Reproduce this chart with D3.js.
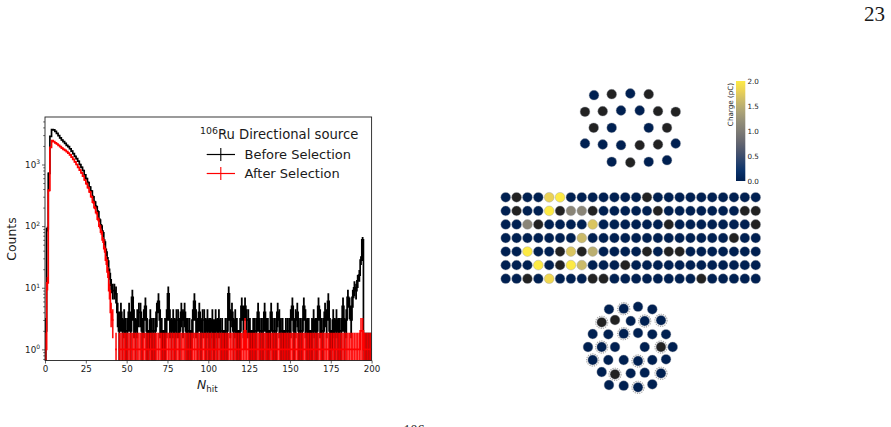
<!DOCTYPE html>
<html><head><meta charset="utf-8">
<script src="https://cdn.jsdelivr.net/npm/d3@7"></script>
<style>
html,body{margin:0;padding:0;background:#fff}
svg{display:block}
text{font-family:"DejaVu Sans",sans-serif;fill:#1a1a1a}
</style></head><body>
<svg id="page" width="891" height="427"></svg>
<script>
// Hit multiplicity histograms, one count per unit-wide bin from 0 to 199
const beforeCounts=[2,90,720,2850,3700,3650,3450,3200,2950,2700,2500,2350,2200,2050,1950,1800,1650,1500,1350,1250,
1130,1000,900,800,680,590,510,430,370,300,245,205,170,125,100,78,55,38,27,17,
11,9,9,8,4,2,4,2,3,2,2,4,2,7,3,2,3,4,4,2,
3,5,2,1,3,2,2,2,4,6,3,2,1,2,3,8,3,2,3,2,
3,3,2,4,3,4,2,2,2,1,3,6,3,2,4,2,3,3,2,3,
2,2,3,1,3,2,3,2,2,1,2,2,8,3,4,2,3,2,1,2,
5,3,5,3,3,2,1,2,2,2,4,2,2,2,4,2,2,1,4,2,
2,2,4,3,2,2,1,2,2,2,3,5,2,3,4,2,2,2,5,3,
2,2,1,2,3,2,2,5,3,2,2,4,3,6,2,1,3,2,3,2,
2,2,5,2,3,7,5,3,7,10,9,13,16,28,60,1,1,1,1,1];
const afterCounts=[1,12,380,1900,2450,2350,2250,2150,2050,1950,1850,1760,1700,1620,1530,1430,1320,1210,1100,1000,
900,810,730,650,560,490,420,360,300,245,200,165,130,100,80,60,43,28,18,9,
4,3,0,1,0,1,1,1,1,1,1,1,1,1,1,1,1,1,1,1,
1,1,1,1,1,1,1,1,1,1,1,1,1,1,1,1,1,1,1,1,
1,1,1,1,1,1,1,1,1,1,1,1,1,1,1,1,1,1,1,1,
1,1,1,1,1,1,1,1,1,1,1,1,1,1,1,1,1,1,1,1,
1,1,2,1,1,1,1,1,1,1,1,1,1,1,1,1,1,1,1,1,
1,1,1,1,1,1,1,1,1,1,1,1,1,1,1,1,1,1,1,1,
1,1,1,1,1,1,1,1,1,1,1,1,1,1,1,1,1,1,1,1,
1,1,1,1,1,1,1,1,1,1,1,1,1,2,2,1,1,1,1,1];
const xTicks=[0,25,50,75,100,125,150,175,200];
const yMajor=[1,10,100,1000];
const yMinor=[0.7,0.8,0.9,2,3,4,5,6,7,8,9,20,30,40,50,60,70,80,90,200,300,400,500,600,700,800,900,2000,3000,4000,5000];
const errorScale=0.86;

// Barrel channels: rows of charge in pC, null marks a channel without a calibrated reading
const _=null;
const barrelCharge=[
[0,_,0,0,1.8,2,0,0,0,0,0,0,0,_,0,0,0,0,0,0,0,0,0,0],
[0,_,0,0,2,_,1.1,1.1,_,0,0,0,0,0,_,0,0,0,0,0,0,0,_,_],
[0,0,1.1,_,0,0,0,0,1.7,0,0,0,0,0,0,_,0,0,0,0,0,0,0,_],
[0,0,0,0,0,0,0,1.6,0,0,0,0,0,0,0,0,0,0,0,0,0,_,0,0],
[0,0,2,0,0,_,1.7,_,1.5,0,0,0,0,_,0,_,_,0,0,0,0,0,0,0],
[0,0,0,2,0,_,2,1.6,0,0,0,_,0,0,0,0,0,0,0,0,0,0,0,0],
[0,0,_,0,1.85,0,0,0,_,_,0,0,0,0,0,0,0,0,_,0,0,0,0,0]];

// Top cap: detector coordinates and charges
const topCapX=[-36,-18.3,0.3,18.7,-45,-27.3,-9,9.7,28,45.7,-36.3,-18.3,18.7,37,-45,-27.3,-9,9.7,28,45.7,-18.3,0.3,18.7,37];
const topCapY=[33.3,34.3,35,34.3,16.7,17.3,18,18,17.3,16.7,0.7,0.7,0.7,0.7,-15,-16,-16.7,-16.7,-16,-15,-33.3,-34,-33.3,-31.7];
const topCapCharge=[0,_,0,_,_,_,0,0,_,_,_,0,0,_,0,0,0,_,_,0,0,_,0,0];

// Bottom cap: detector coordinates, charges and a flag for channels ringed as triggered
const botCapX=[-21,-6.3,8,22.3,-28.3,-15,0.7,14.7,31,-37.3,-21.7,-6.3,8,22.3,36,-42,-28.3,-15,14.7,31,42.7,-37.3,-21.7,-6.3,8,22.3,36,-28.3,-15,0.7,14.7,31,-21,-6.3,8,22.3];
const botCapY=[37.7,38.3,40.3,37.7,24.7,27,26,26,26.7,13,12.7,13.3,14,12.7,12.7,0,0,0,0,0,0,-13,-13,-13,-14,-13,-12.3,-25,-27.3,-26.3,-25.7,-26.3,-38,-38.7,-40.3,-37.3];
const botCapCharge=[0,0,0,0,_,_,0,0,0,0,0,0,0,0,0,0,0,0,0,_,0,0,0,0,0,0,0,0,_,0,0,0,0,0,0,0];
const botCapRing=[0,1,0,0,1,0,0,1,1,0,0,1,0,0,0,0,1,0,0,1,0,1,0,0,1,0,0,0,1,0,0,1,0,0,1,0];
const colorbarTicks=[0,0.5,1,1.5,2];

const svg=d3.select("#page");

// ---- histogram panel ----
const x=d3.scaleLinear().domain([0,200]).range([45,371.6]);
const y=d3.scaleLog().domain([0.66,5900]).range([360.5,117]);
const cid="plot-clip";
svg.append("defs").append("clipPath").attr("id",cid).append("rect")
  .attr("x",45).attr("y",117).attr("width",326.6).attr("height",243.5);
const plot=svg.append("g").attr("clip-path",`url(#${cid})`);
const floorV=0.01;

// Each bin gets a vertical error bar; low-count bars run off the bottom of the log axis,
// and bins with no entries leave the step outline broken
function drawSeries(counts,color,barWidth,barOpacity){
  const errors=counts.map((n,i)=>({i,n})).filter(d=>d.n>0);
  const err=d=>errorScale*Math.sqrt(d.n);
  plot.append("g").selectAll("line").data(errors).join("line")
    .attr("x1",d=>x(d.i+0.5)).attr("x2",d=>x(d.i+0.5))
    .attr("y1",d=>y(d.n<=2?floorV:d.n-err(d)))
    .attr("y2",d=>y(d.n+err(d)))
    .attr("stroke",color).attr("stroke-width",barWidth).attr("stroke-opacity",barOpacity);
  const step=d3.line().defined(d=>d.n>0).x(d=>x(d.e)).y(d=>y(d.n));
  const joined=[];
  counts.forEach((n,i)=>{joined.push({e:i,n});joined.push({e:i+1,n});});
  plot.append("path").attr("d",step(joined)).attr("fill","none")
    .attr("stroke",color).attr("stroke-width",1.7);
}
drawSeries(beforeCounts,"#000",1.8,1);
drawSeries(afterCounts,"#f00",1.6,0.93);

const ax=svg.append("g");
const xAxis=ax.append("g").attr("transform","translate(0,360.5)")
  .call(d3.axisBottom(x).tickValues(xTicks).tickSize(3).tickPadding(2).tickFormat(d3.format("d")));
const yAxisMinor=ax.append("g").attr("transform","translate(45,0)")
  .call(d3.axisLeft(y).tickValues(yMinor).tickSize(1.8).tickFormat(""));
const yAxisMajor=ax.append("g").attr("transform","translate(45,0)")
  .call(d3.axisLeft(y).tickValues(yMajor).tickSize(3).tickPadding(2).tickFormat(""));
yAxisMajor.selectAll(".tick text").each(function(d){
  const t=d3.select(this).attr("font-size",8.7).attr("dy","0.32em");
  t.append("tspan").text("10");
  t.append("tspan").attr("font-size",6).attr("dy","-0.55em").text(Math.round(Math.log10(d)));
});
xAxis.selectAll("text").attr("font-size",8.7).attr("font-family","DejaVu Sans");
[xAxis,yAxisMinor,yAxisMajor].forEach(a=>{a.select(".domain").remove();a.selectAll("line").attr("stroke","#222").attr("stroke-width",0.7);});
svg.append("rect").attr("x",45).attr("y",117).attr("width",326.6).attr("height",243.5)
  .attr("fill","none").attr("stroke","#222").attr("stroke-width",0.9);

svg.append("text").attr("transform","translate(16,239) rotate(-90)")
  .attr("text-anchor","middle").attr("font-size",12.4).text("Counts");
const xl=svg.append("text").attr("x",197).attr("y",389).attr("font-size",12.4);
xl.append("tspan").attr("font-style","italic").text("N");
xl.append("tspan").attr("font-size",8.7).attr("dy",2.5).text("hit");

// legend
const leg=svg.append("text").attr("x",200).attr("y",139).attr("font-size",13.2);
leg.append("tspan").attr("font-size",9.4).attr("dy",-5).text("106");
leg.append("tspan").attr("dy",5).text("Ru Directional source");
[["Before Selection","#000",154.5],["After Selection","#f00",173.5]].forEach(([label,c,ly])=>{
  svg.append("line").attr("x1",206.7).attr("x2",235).attr("y1",ly).attr("y2",ly).attr("stroke",c).attr("stroke-width",1.2);
  svg.append("line").attr("x1",220.8).attr("x2",220.8).attr("y1",ly-6.5).attr("y2",ly+6.5).attr("stroke",c).attr("stroke-width",1.1);
  svg.append("text").attr("x",244.5).attr("y",ly+4.5).attr("font-size",13).text(label);
});

// ---- event display ----
const cividis=d3.scaleSequential(d3.interpolateCividis).domain([0,2]);
const fillFor=c=>c===null?"#222222":cividis(c);
const R=4.9;

function drawDots(g,rows){
  g.selectAll("circle").data(rows).join("circle")
    .attr("cx",d=>d.px).attr("cy",d=>d.py).attr("r",R)
    .attr("fill",d=>fillFor(d.c))
    .attr("stroke","#9aa0a8").attr("stroke-width",0.4);
}

const colX=d3.scaleLinear().domain([0,23]).range([505.7,755.7]);
const rowY=d3.scaleLinear().domain([0,6]).range([197.3,278.7]);
drawDots(svg.append("g"),barrelCharge.flatMap((row,r)=>row.map((c,i)=>({px:colX(i),py:rowY(r),c}))));

const topX=d3.scaleLinear().domain([-50,50]).range([580,680]);
const topY=d3.scaleLinear().domain([-50,50]).range([178.5,78.5]);
drawDots(svg.append("g"),topCapX.map((v,i)=>({px:topX(v),py:topY(topCapY[i]),c:topCapCharge[i]})));

const botX=d3.scaleLinear().domain([-50,50]).range([580,680]);
const botY=d3.scaleLinear().domain([-50,50]).range([397,297]);
const botPts=botCapX.map((v,i)=>({px:botX(v),py:botY(botCapY[i]),c:botCapCharge[i],ring:botCapRing[i]}));
svg.append("g").selectAll("circle").data(botPts.filter(d=>d.ring)).join("circle")
  .attr("cx",d=>d.px).attr("cy",d=>d.py).attr("r",6.1)
  .attr("fill","none").attr("stroke","#a5a5a5").attr("stroke-width",1.1).attr("stroke-dasharray","1.3 1");
drawDots(svg.append("g"),botPts);

// colour bar
const cb=d3.scaleLinear().domain([0,2]).range([181,81]);
const grad=svg.select("defs").append("linearGradient").attr("id","cbar").attr("x1",0).attr("x2",0).attr("y1",1).attr("y2",0);
d3.range(0,1.0001,0.1).forEach(t=>grad.append("stop").attr("offset",t).attr("stop-color",d3.interpolateCividis(t)));
svg.append("rect").attr("x",736).attr("y",cb(2)).attr("width",9.3).attr("height",cb(0)-cb(2)).attr("fill","url(#cbar)");
svg.append("g").selectAll("text").data(colorbarTicks).join("text")
  .attr("x",747.5).attr("y",d=>cb(d)).attr("dy","0.35em").attr("font-size",7.2).text(d=>d.toFixed(1));
svg.append("text").attr("transform","translate(733,104.5) rotate(-90)")
  .attr("text-anchor","middle").attr("font-size",7.2).text("Charge (pC)");

// page furniture
svg.append("text").attr("x",885).attr("y",21).attr("text-anchor","end")
  .style("font-family","'Liberation Serif',serif").attr("font-size",21).text("23");
svg.append("text").attr("x",414).attr("y",434.7).attr("text-anchor","middle")
  .style("font-family","'Liberation Serif',serif").attr("font-size",14).text("106");
</script>
</body></html>
